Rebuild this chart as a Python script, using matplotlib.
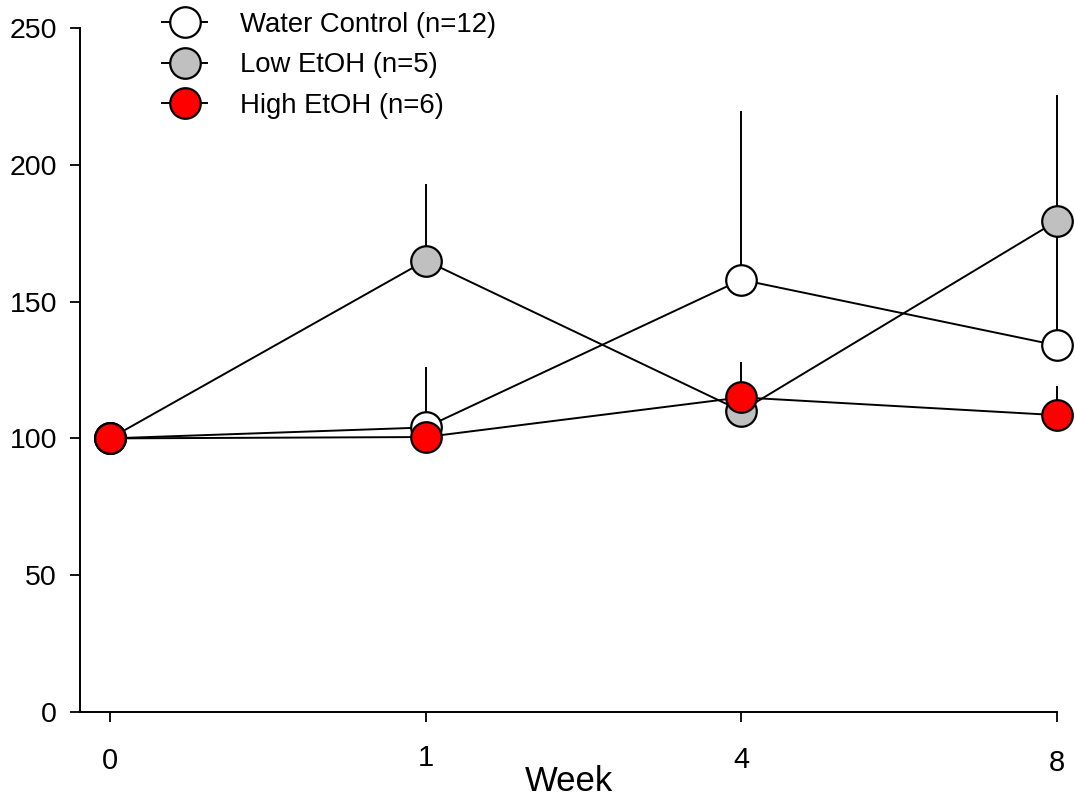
import matplotlib
matplotlib.use("Agg")
import matplotlib.pyplot as plt
import matplotlib.transforms as mtransforms
import numpy as np

plt.rcParams['font.family'] = ['Liberation Sans', 'DejaVu Sans']

weeks = ["0", "1", "4", "8"]
water_mean = [100, 104, 158, 134]
water_err = [0, 22, 61.5, 45]
low_mean = [100, 165, 110, 179.5]
low_err = [0, 28, 8, 46]
high_mean = [100, 100.5, 115, 108.5]
high_err = [0, 0, 13, 10.5]

labels = ["Water Control (n=12)", "Low EtOH (n=5)", "High EtOH (n=6)"]
face_colors = ["white", "#c0c0c0", "#ff0000"]

fig = plt.figure(figsize=(10.75, 7.98), dpi=100)
ax = fig.add_axes([80/1075, 86/798, (1057-80)/1075, (712-28)/798])

x = np.arange(len(weeks))
series = [(water_mean, water_err), (low_mean, low_err), (high_mean, high_err)]
handles = []
for i, ((m, e), lab, fc) in enumerate(zip(series, labels, face_colors)):
    m = np.array(m, dtype=float)
    e = np.array(e, dtype=float)
    ax.errorbar(x, m, yerr=[np.zeros_like(e), e], fmt='none', ecolor='black',
                elinewidth=1.4, capsize=0, zorder=2 + 2*i, clip_on=False)
    h, = ax.plot(x, m, '-', color='black', lw=1.4, marker='o', markersize=22,
                 markerfacecolor=fc, markeredgecolor='black', markeredgewidth=1.6,
                 zorder=3 + 2*i, clip_on=False, label=lab)
    handles.append(h)

ax.set_xlim(-0.095, 3.0)
ax.set_ylim(0, 250)
ax.set_yticks([0, 50, 100, 150, 200, 250])
ax.set_xticks(x)
ax.set_xticklabels(weeks)
for s in ['top', 'right']:
    ax.spines[s].set_visible(False)
for s in ['left', 'bottom']:
    ax.spines[s].set_linewidth(1.4)
ax.tick_params(axis='y', direction='out', length=7.5, width=1.3, pad=9, labelsize=20.5)
ax.tick_params(axis='x', direction='out', length=7.5, width=1.3, pad=18, labelsize=21)

# slightly staggered x tick labels as in the original
offsets_px = [0, 3, 1, -2]
for lbl, off in zip(ax.get_xticklabels(), offsets_px):
    lbl.set_transform(lbl.get_transform() + mtransforms.ScaledTranslation(0, off/100, fig.dpi_scale_trans))

ax.set_xlabel("Week", fontsize=25, labelpad=-9)

leg = ax.legend(handles=handles, loc='upper left', bbox_to_anchor=(162/1075, 1 - 12/798),
                bbox_transform=fig.transFigure, frameon=False, fontsize=19.8,
                handlelength=1.65, handletextpad=1.2, labelspacing=0.52, borderpad=0,
                borderaxespad=0, markerscale=1.0)

fig.savefig("out.png", dpi=100, facecolor='white')
